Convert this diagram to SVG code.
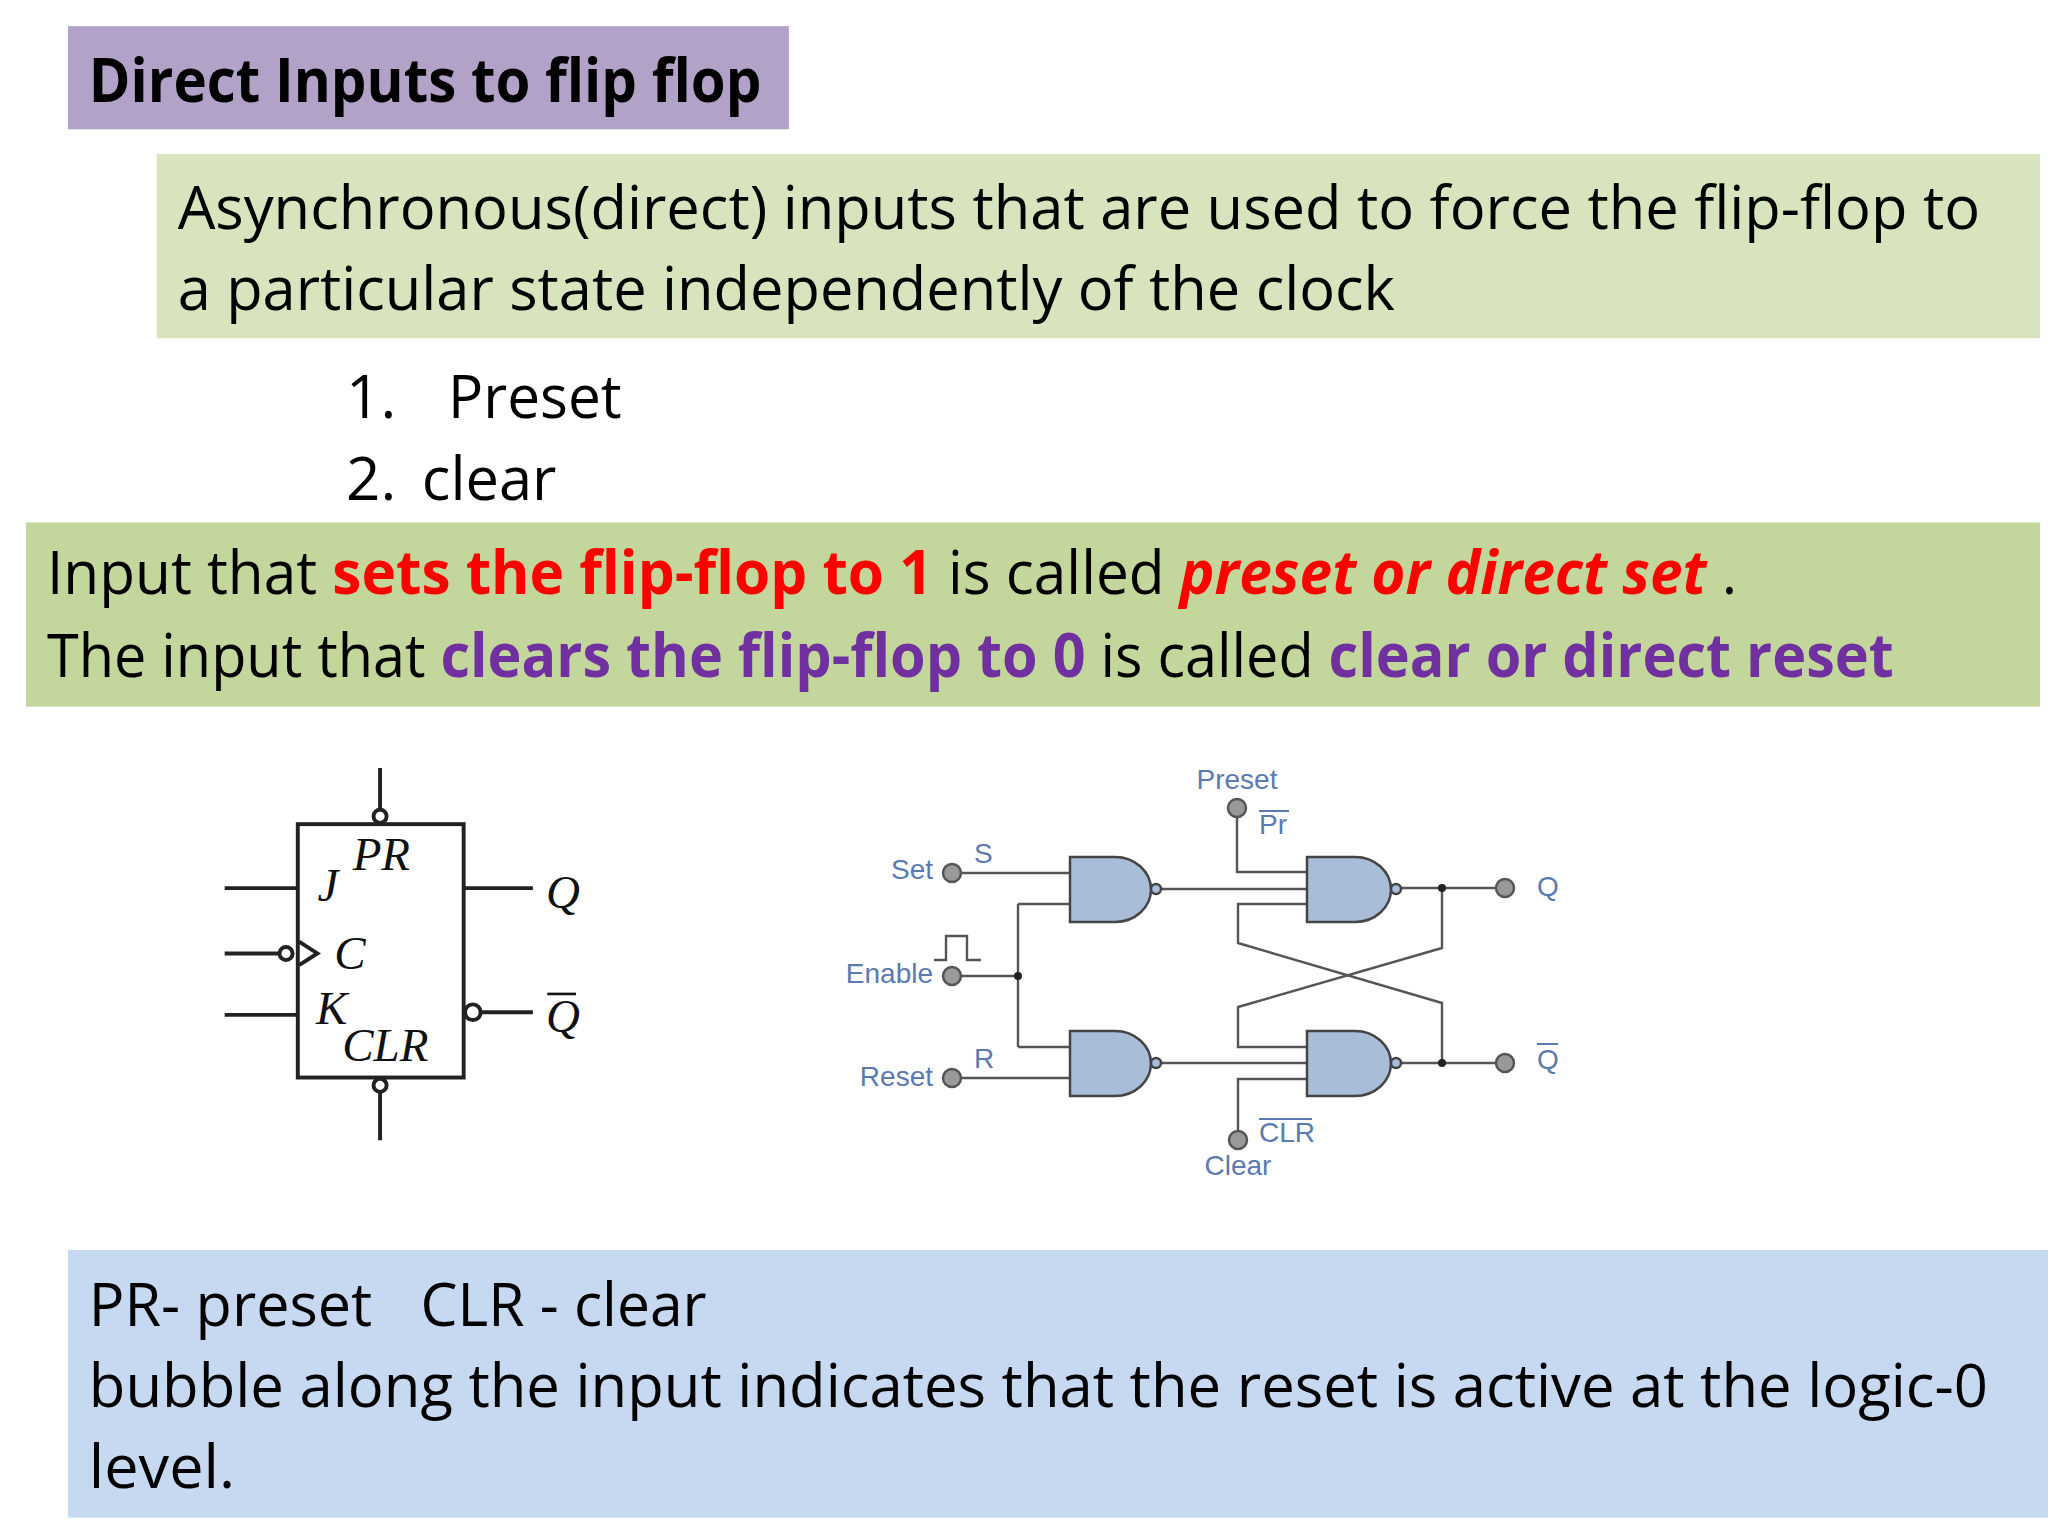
<svg xmlns="http://www.w3.org/2000/svg" width="2048" height="1536" viewBox="0 0 2048 1536">
<style>
.t{font-family:"Open Sans","Liberation Sans",sans-serif;font-size:46px;fill:#000}
.b{font-weight:bold}
.r{fill:#ff0000;font-weight:bold}
.p{fill:#7030a0;font-weight:bold}
.s{font-family:"Liberation Serif",serif;font-style:italic;font-size:36px;fill:#111}
.w{fill:none;stroke:#555;stroke-width:2.4}
.g{fill:#a9bcd8;stroke:#444;stroke-width:2.5}
.c{fill:#999;stroke:#555;stroke-width:2.5}
.l{font-family:"Liberation Sans",sans-serif;font-size:28px;fill:#5b7ab0}
.k{fill:none;stroke:#222;stroke-width:3}
</style>
<rect width="2048" height="1536" fill="#fff"/>
<g transform="scale(1.3061)">
<g id="title"><rect x="52" y="20" width="552" height="79" fill="#b3a2c7"/>
<text class="t b" x="68" y="78" textLength="515" lengthAdjust="spacingAndGlyphs">Direct Inputs to flip flop</text></g>
<g id="def"><rect x="120" y="118" width="1442" height="141" fill="#d7e4bd"/>
<text class="t" x="136" y="175" textLength="1380" lengthAdjust="spacingAndGlyphs">Asynchronous(direct) inputs that are used to force the flip-flop to</text>
<text class="t" x="136" y="237" textLength="932" lengthAdjust="spacingAndGlyphs">a particular state independently of the clock</text></g>
<g id="list">
<text class="t" x="265" y="320">1.</text><text class="t" x="343" y="320" textLength="133" lengthAdjust="spacingAndGlyphs">Preset</text>
<text class="t" x="265" y="383">2.</text><text class="t" x="323" y="383" textLength="103" lengthAdjust="spacingAndGlyphs">clear</text></g>
<g id="explain"><rect x="20" y="400" width="1542" height="141" fill="#c3d69b"/>
<text class="t" x="36" y="455" textLength="1294" lengthAdjust="spacingAndGlyphs">Input that <tspan class="r">sets the flip-flop to 1</tspan> is called <tspan class="r" font-style="italic">preset or direct set</tspan> .</text>
<text class="t" x="36" y="518" textLength="1414" lengthAdjust="spacingAndGlyphs">The input that <tspan class="p">clears the flip-flop to 0</tspan> is called <tspan class="p">clear or direct reset</tspan></text></g>
<g id="jkff">
<rect x="228" y="631" width="127" height="194" class="k"/>
<line x1="291" y1="588" x2="291" y2="620" class="k"/><circle cx="291" cy="625" r="5" class="k"/>
<line x1="291" y1="836" x2="291" y2="873" class="k"/><circle cx="291" cy="831" r="5" class="k"/>
<line x1="172" y1="680" x2="228" y2="680" class="k"/>
<line x1="172" y1="730" x2="213" y2="730" class="k"/><circle cx="219" cy="730" r="5" class="k"/>
<polyline points="229,721 243,730 229,739" class="k"/>
<line x1="172" y1="777" x2="228" y2="777" class="k"/>
<line x1="355" y1="680" x2="408" y2="680" class="k"/>
<circle cx="362" cy="775" r="6" class="k"/><line x1="368" y1="775" x2="408" y2="775" class="k"/>
<text class="s" x="270" y="666">PR</text><text class="s" x="243" y="690">J</text>
<text class="s" x="256" y="742">C</text><text class="s" x="242" y="784">K</text>
<text class="s" x="262" y="812">CLR</text>
<text class="s" x="418" y="695">Q</text><text class="s" x="418" y="790">Q</text>
<line x1="419" y1="761" x2="441" y2="761" stroke="#111" stroke-width="2"/></g>
<g id="notes"><rect x="52" y="957" width="1516" height="205" fill="#c6d9f1"/>
<text class="t" x="68" y="1015" textLength="217" lengthAdjust="spacingAndGlyphs">PR- preset</text>
<text class="t" x="322" y="1015" textLength="219" lengthAdjust="spacingAndGlyphs">CLR - clear</text>
<text class="t" x="68" y="1077" textLength="1454" lengthAdjust="spacingAndGlyphs">bubble along the input indicates that the reset is active at the logic-0</text>
<text class="t" x="68" y="1139" textLength="112" lengthAdjust="spacingAndGlyphs">level.</text></g>
</g>
<g id="connectors">
<path class="w" d="M952,873 H1070 M952,976 H1018 M1018,904 V1047 M1018,904 H1070 M1018,1047 H1070 M952,1078 H1070"/>
<path class="w" d="M1161,889 H1307 M1237,816 V872 H1307 M1307,904 H1238 V943 L1442,1003 V1063"/>
<path class="w" d="M1402,888 H1504 M1442,888 V948 L1238,1007 V1047 H1307"/>
<path class="w" d="M1161,1063 H1307 M1307,1079 H1238 V1132 M1402,1063 H1504"/>
<path class="w" d="M934,960 H946 V936 H967 V960 H981"/>
<circle cx="1018" cy="976" r="4" fill="#222"/><circle cx="1442" cy="888" r="4" fill="#222"/><circle cx="1442" cy="1063" r="4" fill="#222"/>
</g>
<g id="g1"><path class="g" d="M1070,857 H1115 A36,32.5 0 0 1 1115,922 H1070 Z"/><circle cx="1156" cy="889" r="5" class="g" stroke-width="1.5"/></g>
<g id="g2"><path class="g" d="M1307,857 H1355 A36,32.5 0 0 1 1355,922 H1307 Z"/><circle cx="1396" cy="889" r="5" class="g" stroke-width="1.5"/></g>
<g id="g3"><path class="g" d="M1070,1031 H1115 A36,32.5 0 0 1 1115,1096 H1070 Z"/><circle cx="1156" cy="1063" r="5" class="g" stroke-width="1.5"/></g>
<g id="g4"><path class="g" d="M1307,1031 H1355 A36,32.5 0 0 1 1355,1096 H1307 Z"/><circle cx="1396" cy="1063" r="5" class="g" stroke-width="1.5"/></g>
<g id="pins">
<circle cx="952" cy="873" r="9" class="c"/><circle cx="952" cy="976" r="9" class="c"/><circle cx="952" cy="1078" r="9" class="c"/>
<circle cx="1237" cy="808" r="9" class="c"/><circle cx="1238" cy="1140" r="9" class="c"/>
<circle cx="1505" cy="888" r="9" class="c"/><circle cx="1505" cy="1063" r="9" class="c"/>
</g>
<g id="labels">
<text class="l" x="933" y="879" text-anchor="end">Set</text><text class="l" x="974" y="863">S</text>
<text class="l" x="933" y="983" text-anchor="end">Enable</text>
<text class="l" x="933" y="1086" text-anchor="end">Reset</text><text class="l" x="974" y="1068">R</text>
<text class="l" x="1237" y="789" text-anchor="middle">Preset</text>
<text class="l" x="1259" y="834">Pr</text><line x1="1259" y1="811" x2="1289" y2="811" stroke="#5b7ab0" stroke-width="2"/>
<text class="l" x="1259" y="1142">CLR</text><line x1="1259" y1="1119" x2="1312" y2="1119" stroke="#5b7ab0" stroke-width="2"/>
<text class="l" x="1238" y="1175" text-anchor="middle">Clear</text>
<text class="l" x="1537" y="896">Q</text>
<text class="l" x="1537" y="1069">Q</text><line x1="1537" y1="1044" x2="1558" y2="1044" stroke="#5b7ab0" stroke-width="2"/>
</g>
</svg>
